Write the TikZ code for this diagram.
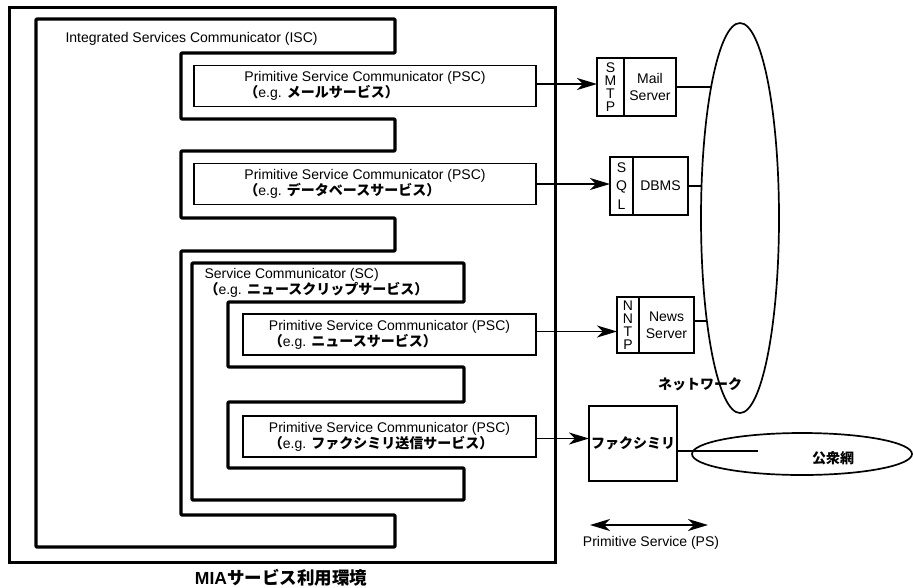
\documentclass[tikz,border=0pt]{standalone}
\usepackage{fontspec}
\setmainfont{Liberation Sans}
\newfontfamily\jpfont{Noto Sans CJK JP}
\usetikzlibrary{arrows.meta,positioning,calc,shapes.geometric}
\newcommand\jp[1]{{\jpfont\bfseries #1}}
\newcommand\egline[1]{\jp{（}e.g. \jp{#1）}}
\tikzset{
  frame/.style={draw=black, line width=3pt},
  comb/.style={draw=black, line width=3.4pt, line join=round, rounded corners=1pt},
  psc/.style={draw=black, line width=1.7pt, outer sep=0pt, inner sep=0pt,
              align=left, minimum height=41pt},
  proto/.style={draw=black, line width=1.7pt, outer sep=0pt, inner sep=0pt,
                align=center, font=\fontsize{14}{13}\selectfont},
  server/.style={draw=black, line width=1.7pt, outer sep=0pt, inner sep=0pt,
                 align=center, font=\fontsize{14}{17}\selectfont},
  cloud/.style={draw=black, ellipse, line width=1.7pt, inner sep=0pt, outer sep=0pt},
  tip/.tip={Stealth[length=20pt,width=12pt,inset=6pt]},
  arrow/.style={-tip, line width=1.8pt},
  link/.style={line width=1.7pt}
}

\begin{document}
\begin{tikzpicture}[x=1pt, y=-1pt, font=\fontsize{14}{16}\selectfont]
  \fill[white] (0,0) rectangle (913,587);
  \useasboundingbox (0,0) rectangle (913,587);

  % MIA environment
  \draw[frame] (9,7) rectangle (555,562);
  \node (mialbl) at (281,578) {\fontsize{17.5}{20}\selectfont\bfseries MIA\jp{サービス利用環境}};

  % ISC
  \draw[comb] (36,19) -- (395,19) -- (395,53) -- (181,53) -- (181,119)
    -- (395,119) -- (395,151) -- (181,151) -- (181,218) -- (395,218)
    -- (395,251) -- (181,251) -- (181,515) -- (395,515) -- (395,547)
    -- (36,547) -- cycle;
  \node[anchor=west] (isclbl) at (62,39) {Integrated Services Communicator (ISC)};

  % SC
  \draw[comb] (192,263) -- (464,263) -- (464,302) -- (228,302) -- (228,367)
    -- (464,367) -- (464,402) -- (228,402) -- (228,468) -- (464,468)
    -- (464,500) -- (192,500) -- cycle;
  \node[anchor=west, align=left] (sclbl) at (201,283)
    {Service Communicator (SC)\\\egline{ニュースクリップサービス}};

  % PSCs
  \node[psc, minimum width=342pt] (psc1) at (365,86)
    {Primitive Service Communicator (PSC)\\\egline{メールサービス}};
  \node[psc, minimum width=342pt] (psc2) at (365,184)
    {Primitive Service Communicator (PSC)\\\egline{データベースサービス}};
  \node[psc, minimum width=293pt] (psc3) at (389.5,334.5)
    {Primitive Service Communicator (PSC)\\\egline{ニュースサービス}};
  \node[psc, minimum width=293pt] (psc4) at (389.5,436.5)
    {Primitive Service Communicator (PSC)\\\egline{ファクシミリ送信サービス}};

  % servers
  \node[proto, minimum width=27pt, minimum height=58pt] (smtp) at (610.5,87) {S\\M\\T\\P};
  \node[server, minimum width=52pt, minimum height=58pt, right=0pt of smtp] (mail) {Mail\\Server};
  \node[proto, minimum width=23pt, minimum height=58pt,
        font=\fontsize{14}{18.5}\selectfont] (sql) at (621.5,186) {S\\Q\\L};
  \node[server, minimum width=55pt, minimum height=58pt, right=0pt of sql] (dbms) {DBMS};
  \node[proto, minimum width=22pt, minimum height=56pt] (nntp) at (628,325) {N\\N\\T\\P};
  \node[server, minimum width=55pt, minimum height=56pt, right=0pt of nntp] (news) {News\\Server};
  \node[server, minimum width=88pt, minimum height=75pt] (fax) at (633,443.5) {\jp{ファクシミリ}};

  % networks
  \node[cloud, minimum width=78pt, minimum height=390pt] (net) at (740,218) {};
  \node (netlbl) at (700,384) {\jp{ネットワーク}};
  \node[cloud, minimum width=220pt, minimum height=42pt] (pubnet) at (802,454) {};
  \node (publbl) at (833,458) {\jp{公衆網}};

  % connectors
  \draw[arrow] ([yshift=2pt]psc1.east) -- ([yshift=2pt]psc1.east -| smtp.west);
  \draw[arrow] (psc2.east) -- (psc2.east -| sql.west);
  \draw[arrow] ([yshift=3pt]psc3.east) -- ([yshift=3pt]psc3.east -| nntp.west);
  \draw[arrow] ([yshift=-2pt]psc4.east) -- ([yshift=-2pt]psc4.east -| fax.west);
  \draw[link] (mail.east) -- (mail.east -| net.103);
  \draw[link] (dbms.east) -- (dbms.east -| net.144);
  \draw[link] ([yshift=4pt]news.east) -- ([yshift=4pt]news.east -| net.251);
  \coordinate (faxend) at (758,451);
  \draw[link] ([yshift=-7.5pt]fax.east) -- (faxend);

  % primitive service
  \coordinate (psl) at (590,525);
  \coordinate (psr) at (708,525);
  \draw[tip-tip, line width=1.8pt] (psl) -- (psr);
  \node (pslbl) at (651,543) {Primitive Service (PS)};
\end{tikzpicture}
\end{document}
